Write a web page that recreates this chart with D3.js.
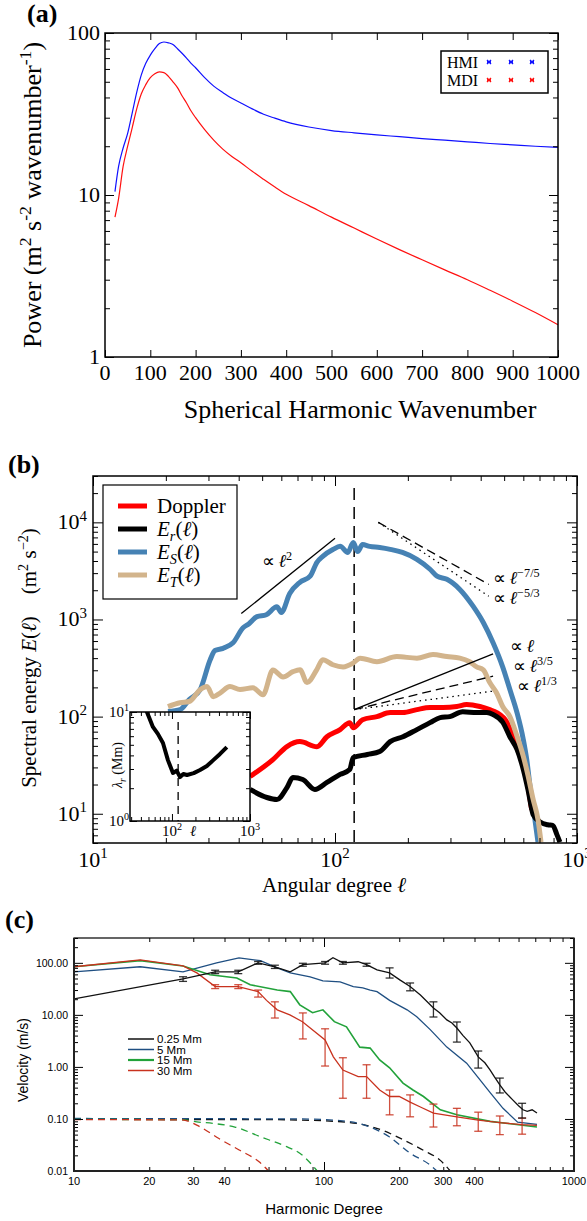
<!DOCTYPE html>
<html>
<head>
<meta charset="utf-8">
<script src="https://cdn.jsdelivr.net/npm/d3@7"></script>
<style>
  body { margin: 0; background: #fff; }
  svg { display: block; }
  .serif { font-family: "Liberation Serif", "Times New Roman", serif; }
  .sans { font-family: "Liberation Sans", Arial, sans-serif; }
</style>
</head>
<body>
<script>
// ---------- panel (a): HMI / MDI power spectrum ----------
var waveA = [22,30,40,50,60,70,80,90,100,110,120,130,140,150,160,170,180,190,200,220,240,260,280,300,325,350,375,400,450,500,550,600,650,700,750,800,850,900,950,1000];
var hmiA = [10.5,15,19.5,24,32,43,55,65,73,80,86,88,87,85,80,75,70,65,61,53,47,43,39.5,37,34,31.5,29.8,28.3,26.3,25,24.2,23.5,22.9,22.3,21.8,21.3,20.8,20.4,20,19.7];
var mdiA = [7.3,9.5,15,20,26,34,42,48,53,56,57.5,57,54,50,46,41,37,33,30,25.3,21.8,19.2,17.3,15.8,14,12.5,11.2,10.1,8.6,7.3,6.25,5.35,4.6,3.98,3.45,3,2.58,2.21,1.88,1.58];
var xTicksA = [0,100,200,300,400,500,600,700,800,900,1000];
var yTicksA = [1,10,100];
var legendA = ["HMI","MDI"];

// ---------- panel (b): spectral energy ----------
var ellS = [20.4,22.9,25,27.7,30.5,31.9,34.5,37.9,41.7,44,47.6,52,57.5,60,65,71.6,78.9,84.2,89,98,105,113,119,124,130,139,153,169,190,218,247,264,290,328,372,410,450,493,528,565,600,620,640,670,690];
var eS = [113,118,150,189,385,480,505,575,822,900,1070,1120,1350,1180,1850,2415,2790,3880,4470,5250,5660,4900,6200,5000,5900,5660,5500,5270,4900,4160,3290,2790,2590,2040,1370,930,575,325,190,110,58,36,19,8.7,5.1];
var ellT = [20.4,22.9,25,27.7,29.6,31.4,33.6,36.8,40.5,45.8,50.4,55.4,61,67,71.7,76.6,84,89,98,108,119,127,149,180,218,254,290,328,360,385,410,436,465,493,528,565,600,627,659,690,710];
var eT = [127,139,143,189,204,160,176,204,190,198,168,302,256,290,303,224,303,385,342,325,357,400,367,415,400,435,415,400,367,325,303,224,176,127,100,63,39,25,14,8.7,5.1];
var ellD = [44.6,55.4,63.3,71.6,84.2,92.6,105,115,119,130,149,169,191,218,247,279,319,350,397,436,466,514,545,582,610,630,650];
var eD = [24.2,36.1,49.2,55.3,49,62,73.5,86.7,77,93,100,110,110,118,124,124,127,133,127,118,110,87,62,46,30,18,11];
var ellR = [44.6,52.3,57.5,63.3,67,73.6,82.6,92.6,105,115,119,136,153,169,191,218,247,272,298,337,385,424,450,494,528,565,600,627,659,701,757,794,826,850];
var eR = [17.8,14.7,14,18.6,23.6,22.5,17.8,21,25.4,28.5,37.9,40.7,43.7,55.3,62,73.5,86.7,97.7,100,112,110,110,105,87,62,46,28.5,17.8,9.8,8.3,7.7,7.6,6.1,5.1];
var ellBreak = 120;
// power-law guides: [start, end] in degree and energy
var guideEll = [[41,100],[151,432],[151,432],[120,450],[120,450],[120,450]];
var guideE = [[1150,6850],[10000,2296],[10000,1735],[118,442],[118,261],[118,183]];
// inset: radial scale vs degree
var ellIn = [45,47.8,57,66,76.7,89,103,115,127,140,156,190,229,280,336,410,505];
var lamIn = [11,10,7.3,6.3,5.2,3.6,2.76,2.9,2.53,2.7,2.64,2.75,2.94,3.2,3.6,4.1,4.77];
var legendB = ["Doppler","Er","ES","ET"];

// ---------- panel (c): velocity vs harmonic degree ----------
var ellC0 = [10,27.3,36.7,45.4,54.5,63.6,73.3,82.3,101,108.6,119,137,148,163,183,201,221,243,274,290,310,325,340,360,383,414,440,462,480,505,530,570,600,625,650,680,711];
var vC0 = [20.3,49,67,67,100,84,67,92,100,125,100,105,92,73,64,47,35,24,13.6,11,8,7,5.6,4,2.9,1.56,1.2,0.87,0.65,0.45,0.33,0.23,0.18,0.15,0.14,0.15,0.13];
var ellC1 = [10,18.4,27.3,37.2,45.7,55.7,65,73.3,88,99,116,131,143,153,163,183,215,235,266,310,372,420,462,520,595,711];
var vC1 = [67,84,67,100,125,110,80,64,54,45,43,35,33,30,28,19,12.5,9.2,5.2,2.4,1.18,0.57,0.32,0.16,0.087,0.079];
var ellC2 = [10,18.4,27.3,35,44.8,50.7,65,73.3,80,90,99,110,123,139,153,167,183,207,227,250,292,340,462,711];
var vC2 = [84,110,87,59,51,38,30,28,15.6,11,12.5,7.4,5.9,2.4,2.3,1.36,0.96,0.49,0.36,0.27,0.15,0.12,0.09,0.07];
var ellC3 = [10,18.4,27.3,31,36.7,45.4,54.5,58.9,65,73,82,101,109,119,137,148,167,183,200,221,243,274,340,414,505,620,711];
var vC3 = [84,114,87,64,35,35,28,19,12.5,10,7.4,3.3,1.56,0.87,0.65,0.65,0.36,0.27,0.27,0.21,0.17,0.13,0.11,0.095,0.085,0.078,0.075];
// error bars [degree, low, high]
var errC0 = [[27.3,44,54],[36.7,62,72],[45.4,62,72],[54.5,94,106],[63.6,78,90],[82.3,86,98],[101,94,106],[119,94,106],[148,86,98],[183,51,80],[221,29,41],[274,9.1,17.8],[340,3.0,7.3],[414,0.95,2.02],[505,0.316,0.61],[620,0.104,0.2]];
var errC3 = [[36.7,32,38],[45.4,32,38],[54.5,22,30],[63.6,8.7,17.8],[82.3,3.45,10.9],[101,1.04,5.4],[119,0.25,1.5],[148,0.25,1.1],[183,0.12,0.36],[221,0.11,0.29],[274,0.07,0.193],[340,0.074,0.16],[414,0.058,0.135],[505,0.05,0.114],[620,0.051,0.104]];
// model (dashed) curves
var ellM0 = [10,60,100,135,172,207,250,292,320];
var vM0 = [0.098,0.097,0.092,0.082,0.06,0.04,0.025,0.016,0.01];
var ellM1 = [10,80,116,148,183,221,266,283];
var vM1 = [0.102,0.1,0.093,0.074,0.045,0.022,0.013,0.01];
var ellM2 = [10,27,31,36,44,56,70,80,94];
var vM2 = [0.098,0.097,0.088,0.082,0.07,0.045,0.03,0.022,0.01];
var ellM3 = [10,27,32,38,46,55,60];
var vM3 = [0.097,0.096,0.07,0.042,0.025,0.015,0.01];
var xTicksC = [10,20,30,40,100,200,300,400,1000];
var yTicksC = [0.01,0.1,1,10,100];
var yLabelsC = ["0.01","0.10","1.00","10.00","100.00"];
var legendC = ["0.25 Mm","5 Mm","15 Mm","30 Mm"];
var colorsC = ["#111111","#1f4f82","#22a23a","#c8321e"];

var svg = d3.select("body").append("svg").attr("width", 587).attr("height", 1221);

// inward ticks on all four sides of a box
function boxTicks(g, x, y, xvals, yvals, len) {
  var b = y.range()[0], t = y.range()[1], l = x.range()[0], r = x.range()[1];
  g.append("g").attr("transform", "translate(0," + b + ")")
    .call(d3.axisBottom(x).tickValues(xvals).tickSize(-len).tickFormat(""));
  g.append("g").attr("transform", "translate(0," + t + ")")
    .call(d3.axisTop(x).tickValues(xvals).tickSize(-len).tickFormat(""));
  g.append("g").attr("transform", "translate(" + l + ",0)")
    .call(d3.axisLeft(y).tickValues(yvals).tickSize(-len).tickFormat(""));
  g.append("g").attr("transform", "translate(" + r + ",0)")
    .call(d3.axisRight(y).tickValues(yvals).tickSize(-len).tickFormat(""));
  g.selectAll(".domain").remove();
}

// text with super/subscripts
function rich(sel, parts, fs) {
  var shift = 0;
  parts.forEach(function(p) {
    var want = p.sup ? -0.4 * fs : (p.sub ? 0.25 * fs : 0);
    var ts = sel.append("tspan").attr("dy", want - shift).text(p.t);
    if (p.sup || p.sub) ts.attr("font-size", 0.68 * fs);
    if (p.it) ts.attr("font-style", "italic");
    if (p.dx) ts.attr("dx", p.dx);
    shift = want;
  });
}
function isPow(v) { return Math.abs(Math.log10(v) - Math.round(Math.log10(v))) < 1e-6; }

// =================== (a) ===================
var gA = svg.append("g").attr("class", "serif");
var xA = d3.scaleLinear().domain([0, 1000]).range([105, 558]);
var yA = d3.scaleLog().domain([1, 100]).range([357, 33]);

var lineA = d3.line().curve(d3.curveMonotoneX)
  .x(function(d, i) { return xA(waveA[i]); }).y(function(d) { return yA(d); });
gA.append("path").datum(hmiA).attr("d", lineA).attr("fill", "none").attr("stroke", "#1010ff").attr("stroke-width", 1.2);
gA.append("path").datum(mdiA).attr("d", lineA).attr("fill", "none").attr("stroke", "#ff1010").attr("stroke-width", 1.2);

boxTicks(gA, xA, yA, xTicksA, [], 7);
boxTicks(gA, xA, yA, [], yTicksA, 9);
boxTicks(gA, xA, yA, [], yA.ticks().filter(function(v) { return !isPow(v); }), 5);
gA.append("rect").attr("x", 105).attr("y", 33).attr("width", 453).attr("height", 324)
  .attr("fill", "none").attr("stroke", "#000").attr("stroke-width", 1.5);

gA.selectAll(".xl").data(xTicksA).enter().append("text")
  .attr("x", function(d) { return xA(d); }).attr("y", 380)
  .attr("text-anchor", "middle").attr("font-size", 22).text(function(d) { return d; });
gA.selectAll(".yl").data(yTicksA).enter().append("text")
  .attr("x", 100).attr("y", function(d) { return yA(d) + 7; })
  .attr("text-anchor", "end").attr("font-size", 22).text(function(d) { return d; });

gA.append("text").attr("x", 360).attr("y", 418).attr("text-anchor", "middle")
  .attr("font-size", 26).text("Spherical Harmonic Wavenumber");
rich(gA.append("text").attr("transform", "translate(41,195) rotate(-90)")
  .attr("text-anchor", "middle").attr("font-size", 26),
  [{t: "Power (m"}, {t: "2", sup: true}, {t: " s"}, {t: "-2", sup: true}, {t: " wavenumber"}, {t: "-1", sup: true}, {t: ")"}], 26);
gA.append("text").attr("x", 27).attr("y", 22).attr("font-size", 26).attr("font-weight", "bold").text("(a)");

// legend (a)
gA.append("rect").attr("x", 441).attr("y", 51).attr("width", 107).attr("height", 42)
  .attr("fill", "#fff").attr("stroke", "#000").attr("stroke-width", 1.5);
legendA.forEach(function(name, i) {
  var yy = 62 + i * 18;
  gA.append("text").attr("x", 447).attr("y", yy + 6).attr("font-size", 16).text(name);
  [489, 511, 532].forEach(function(xx) {
    gA.append("path").attr("d", "M" + (xx - 2) + "," + (yy - 2) + "l4,4m0,-4l-4,4M" + (xx - 2) + "," + yy + "h4")
      .attr("stroke", i === 0 ? "#1010ff" : "#ff1010").attr("stroke-width", 1.4);
  });
});

// =================== (b) ===================
var gB = svg.append("g").attr("class", "serif");
var xB = d3.scaleLog().domain([10, 1000]).range([93, 577]);
var yB = d3.scaleLog().domain([5, 3e4]).range([843, 476]);

svg.append("clipPath").attr("id", "clipB").append("rect")
  .attr("x", 93).attr("y", 476).attr("width", 484).attr("height", 367);
var plotB = gB.append("g").attr("clip-path", "url(#clipB)");

plotB.append("line").attr("x1", xB(ellBreak)).attr("x2", xB(ellBreak))
  .attr("y1", 488).attr("y2", 843).attr("stroke", "#000").attr("stroke-width", 1.5)
  .attr("stroke-dasharray", "12,7");

function lineB(ells) {
  return d3.line().curve(d3.curveMonotoneX)
    .x(function(d, i) { return xB(ells[i]); }).y(function(d) { return yB(d); });
}
var seriesB = [[ellS, eS, "#4682b4"], [ellD, eD, "#ff0000"], [ellR, eR, "#000000"], [ellT, eT, "#d2b48c"]];
seriesB.forEach(function(s) {
  plotB.append("path").datum(s[1]).attr("d", lineB(s[0])).attr("fill", "none")
    .attr("stroke", s[2]).attr("stroke-width", 5).attr("stroke-linejoin", "round");
});

var guideDash = ["none", "9,5", "1.5,4", "none", "9,5", "1.5,4"];
guideEll.forEach(function(g, i) {
  plotB.append("line").attr("x1", xB(g[0])).attr("x2", xB(g[1]))
    .attr("y1", yB(guideE[i][0])).attr("y2", yB(guideE[i][1]))
    .attr("stroke", "#000").attr("stroke-width", 1.3).attr("stroke-dasharray", guideDash[i]);
});
var prop = "\u221D\u2009";
var guideLab = [
  [262, 567, [{t: prop}, {t: "ℓ", it: true}, {t: "2", sup: true}]],
  [493, 584, [{t: prop}, {t: "ℓ", it: true}, {t: "−7/5", sup: true}]],
  [493, 604, [{t: prop}, {t: "ℓ", it: true}, {t: "−5/3", sup: true}]],
  [510, 652, [{t: prop}, {t: "ℓ", it: true}]],
  [513, 672, [{t: prop}, {t: "ℓ", it: true}, {t: "3/5", sup: true}]],
  [517, 692, [{t: prop}, {t: "ℓ", it: true}, {t: "1/3", sup: true}]]
];
guideLab.forEach(function(l) {
  rich(gB.append("text").attr("x", l[0]).attr("y", l[1]).attr("font-size", 18), l[2], 18);
});

boxTicks(gB, xB, yB, [10, 100, 1000], [10, 100, 1000, 10000], 10);
boxTicks(gB, xB, yB, xB.ticks().filter(function(v) { return !isPow(v); }),
  yB.ticks().filter(function(v) { return !isPow(v); }), 5);
gB.append("rect").attr("x", 93).attr("y", 476).attr("width", 484).attr("height", 367)
  .attr("fill", "none").attr("stroke", "#000").attr("stroke-width", 1.5);

[10, 100, 1000].forEach(function(v) {
  rich(gB.append("text").attr("x", xB(v)).attr("y", 867).attr("text-anchor", "middle").attr("font-size", 22),
    [{t: "10"}, {t: String(Math.round(Math.log10(v))), sup: true}], 22);
});
[10, 100, 1000, 10000].forEach(function(v) {
  rich(gB.append("text").attr("x", 87).attr("y", yB(v) + 7).attr("text-anchor", "end").attr("font-size", 22),
    [{t: "10"}, {t: String(Math.round(Math.log10(v))), sup: true}], 22);
});

rich(gB.append("text").attr("x", 334).attr("y", 892).attr("text-anchor", "middle").attr("font-size", 21),
  [{t: "Angular degree "}, {t: "ℓ", it: true}], 21);
rich(gB.append("text").attr("transform", "translate(36,658) rotate(-90)").attr("text-anchor", "middle").attr("font-size", 21),
  [{t: "Spectral energy "}, {t: "E", it: true}, {t: "("}, {t: "ℓ", it: true}, {t: ")"},
   {t: "(m", dx: 22}, {t: "2", sup: true}, {t: " s"}, {t: "−2", sup: true}, {t: ")"}], 21);
gB.append("text").attr("x", 8).attr("y", 473).attr("font-size", 26).attr("font-weight", "bold").text("(b)");

// legend (b)
gB.append("rect").attr("x", 103).attr("y", 485).attr("width", 134).attr("height", 114)
  .attr("fill", "#fff").attr("stroke", "#000").attr("stroke-width", 1.2);
var legColB = ["#ff0000", "#000000", "#4682b4", "#d2b48c"];
legendB.forEach(function(name, i) {
  var base = 513 + i * 23;
  gB.append("line").attr("x1", 118).attr("x2", 147).attr("y1", base - 7).attr("y2", base - 7)
    .attr("stroke", legColB[i]).attr("stroke-width", 5);
  var t = gB.append("text").attr("x", 157).attr("y", base).attr("font-size", 21);
  if (i === 0) t.text(name);
  else rich(t, [{t: "E", it: true}, {t: name.slice(1), sub: true, it: true}, {t: "("}, {t: "ℓ", it: true}, {t: ")"}], 21);
});

// inset
var xI = d3.scaleLog().domain([29, 1000]).range([130, 250]);
var yI = d3.scaleLog().domain([1, 10]).range([821, 712]);
gB.append("rect").attr("x", 130).attr("y", 712).attr("width", 120).attr("height", 109).attr("fill", "#fff");
svg.append("clipPath").attr("id", "clipI").append("rect")
  .attr("x", 130).attr("y", 712).attr("width", 120).attr("height", 109);
var plotI = gB.append("g").attr("clip-path", "url(#clipI)");
plotI.append("line").attr("x1", xI(ellBreak)).attr("x2", xI(ellBreak)).attr("y1", 722).attr("y2", 821)
  .attr("stroke", "#000").attr("stroke-width", 1.3).attr("stroke-dasharray", "8,6");
plotI.append("path").datum(lamIn)
  .attr("d", d3.line().x(function(d, i) { return xI(ellIn[i]); }).y(function(d) { return yI(d); }))
  .attr("fill", "none").attr("stroke", "#000").attr("stroke-width", 4).attr("stroke-linejoin", "round");
boxTicks(gB, xI, yI, [100, 1000], [1, 10], 7);
boxTicks(gB, xI, yI, xI.ticks().filter(function(v) { return !isPow(v) && v > 29; }),
  yI.ticks().filter(function(v) { return !isPow(v); }), 4);
gB.append("rect").attr("x", 130).attr("y", 712).attr("width", 120).attr("height", 109)
  .attr("fill", "none").attr("stroke", "#000").attr("stroke-width", 1.5);
[100, 1000].forEach(function(v) {
  rich(gB.append("text").attr("x", xI(v)).attr("y", 836).attr("text-anchor", "middle").attr("font-size", 15),
    [{t: "10"}, {t: String(Math.round(Math.log10(v))), sup: true}], 15);
});
gB.append("text").attr("x", 190).attr("y", 836).attr("font-size", 15).attr("font-style", "italic").text("ℓ");
[1, 10].forEach(function(v) {
  rich(gB.append("text").attr("x", 129).attr("y", yI(v) + 5).attr("text-anchor", "end").attr("font-size", 15),
    [{t: "10"}, {t: String(Math.round(Math.log10(v))), sup: true}], 15);
});
rich(gB.append("text").attr("transform", "translate(122,765) rotate(-90)").attr("text-anchor", "middle").attr("font-size", 14),
  [{t: "λ", it: true}, {t: "r", sub: true, it: true}, {t: " (Mm)"}], 14);

// =================== (c) ===================
var gC = svg.append("g").attr("class", "sans");
var xC = d3.scaleLog().domain([10, 1000]).range([74, 574]);
var yC = d3.scaleLog().domain([0.01, 300]).range([1171, 938]);

svg.append("clipPath").attr("id", "clipC").append("rect")
  .attr("x", 74).attr("y", 938).attr("width", 500).attr("height", 233);
var plotC = gC.append("g").attr("clip-path", "url(#clipC)");

function lineC(ells) {
  return d3.line().x(function(d, i) { return xC(ells[i]); }).y(function(d) { return yC(d); });
}
var modelsC = [[ellM0, vM0], [ellM1, vM1], [ellM2, vM2], [ellM3, vM3]];
modelsC.forEach(function(m, i) {
  plotC.append("path").datum(m[1]).attr("d", lineC(m[0]).curve(d3.curveMonotoneX)).attr("fill", "none")
    .attr("stroke", colorsC[i]).attr("stroke-width", 1.3).attr("stroke-dasharray", "7,5");
});
var obsC = [[ellC0, vC0], [ellC1, vC1], [ellC2, vC2], [ellC3, vC3]];
[1, 2, 3, 0].forEach(function(i) {
  plotC.append("path").datum(obsC[i][1]).attr("d", lineC(obsC[i][0])).attr("fill", "none")
    .attr("stroke", colorsC[i]).attr("stroke-width", i === 2 ? 1.6 : 1.3);
});
function errBars(data, color) {
  var g = plotC.append("g").attr("stroke", color).attr("stroke-width", 1.3).attr("stroke-opacity", 0.85);
  data.forEach(function(e) {
    var x = xC(e[0]);
    g.append("line").attr("x1", x).attr("x2", x).attr("y1", yC(e[1])).attr("y2", yC(e[2]));
    g.append("line").attr("x1", x - 4).attr("x2", x + 4).attr("y1", yC(e[1])).attr("y2", yC(e[1]));
    g.append("line").attr("x1", x - 4).attr("x2", x + 4).attr("y1", yC(e[2])).attr("y2", yC(e[2]));
  });
}
errBars(errC3, colorsC[3]);
errBars(errC0, colorsC[0]);

boxTicks(gC, xC, yC, [10, 100, 1000], yTicksC, 9);
boxTicks(gC, xC, yC, xC.ticks().filter(function(v) { return !isPow(v); }),
  yC.ticks().filter(function(v) { return !isPow(v); }), 4);
gC.append("rect").attr("x", 74).attr("y", 938).attr("width", 500).attr("height", 233)
  .attr("fill", "none").attr("stroke", "#000").attr("stroke-width", 1.2);
gC.append("path").attr("d", "M74,938V1171H574V938").attr("fill", "none").attr("stroke", "#222").attr("stroke-width", 2);

gC.selectAll(".xc").data(xTicksC).enter().append("text")
  .attr("x", function(d) { return xC(d); }).attr("y", 1185)
  .attr("text-anchor", "middle").attr("font-size", 11).text(function(d) { return d; });
gC.selectAll(".yc").data(yTicksC).enter().append("text")
  .attr("x", 68).attr("y", function(d) { return yC(d) + 4; })
  .attr("text-anchor", "end").attr("font-size", 10.5).text(function(d, i) { return yLabelsC[i]; });
gC.append("text").attr("x", 324).attr("y", 1214).attr("text-anchor", "middle").attr("font-size", 15).text("Harmonic Degree");
gC.append("text").attr("transform", "translate(28,1060) rotate(-90)").attr("text-anchor", "middle")
  .attr("font-size", 14).text("Velocity (m/s)");
gC.append("text").attr("x", 5).attr("y", 928).attr("font-size", 26)
  .attr("font-weight", "bold").attr("font-family", "Liberation Serif, serif").text("(c)");

legendC.forEach(function(name, i) {
  var yy = 1039 + i * 10.5;
  gC.append("line").attr("x1", 128).attr("x2", 154).attr("y1", yy).attr("y2", yy)
    .attr("stroke", colorsC[i]).attr("stroke-width", i === 2 ? 2.2 : 1.5);
  gC.append("text").attr("x", 157).attr("y", yy + 4).attr("font-size", 11.5).text(name);
});
</script>
</body>
</html>
